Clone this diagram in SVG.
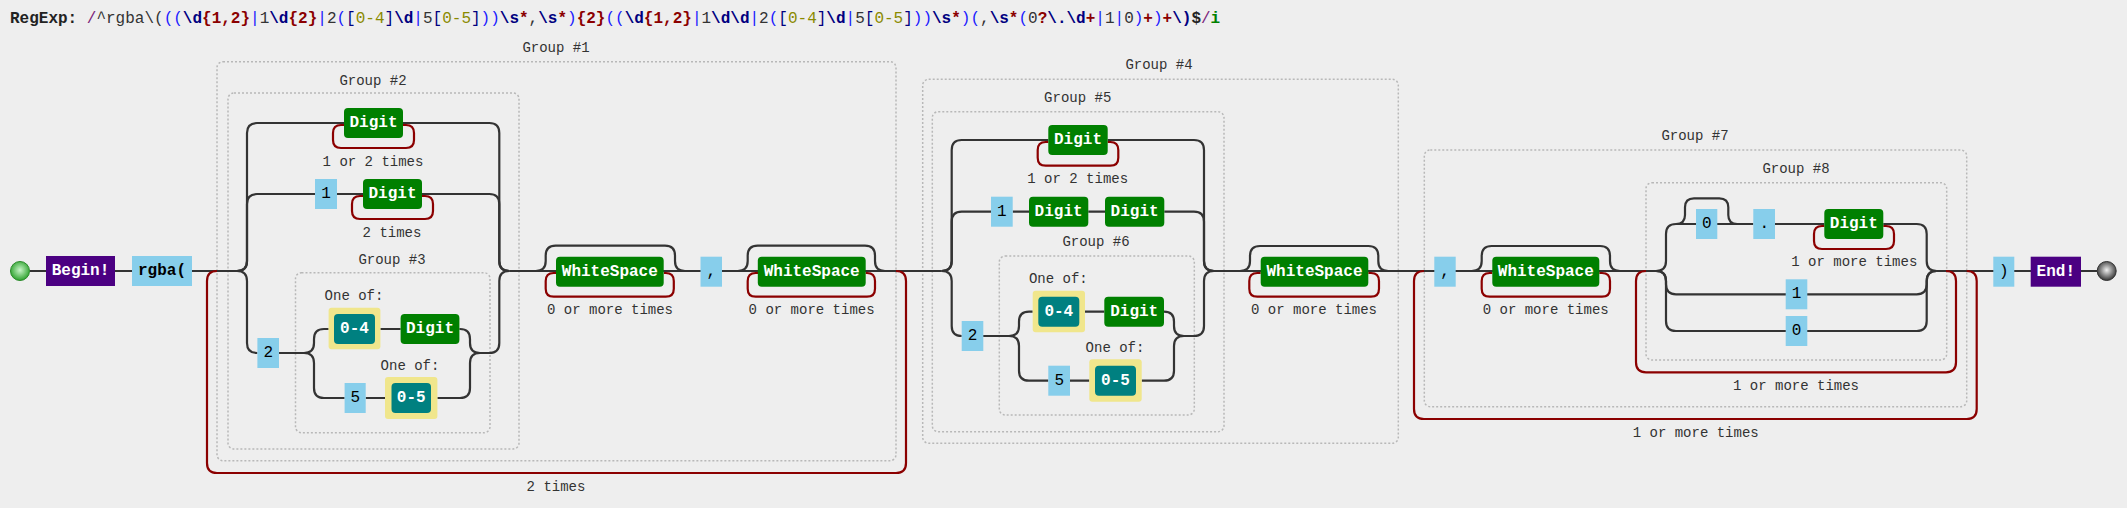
<svg xmlns="http://www.w3.org/2000/svg" width="2127" height="508" viewBox="0 0 2127 508">
<style>
.bg{fill:#eeeeee}
.grp{fill:none;stroke:#b8b8b8;stroke-width:1.5;stroke-dasharray:2 2}
.glabel{font-family:"Liberation Mono","Courier New",monospace;font-size:14px;fill:#333;text-anchor:middle}
.note{font-family:"Liberation Mono","Courier New",monospace;font-size:14px;fill:#333;text-anchor:middle}
.conn{fill:none;stroke:#333;stroke-width:2.2}
.loop{fill:none;stroke:#8b0000;stroke-width:2.2}
.green{fill:#008000}
.teal{fill:#008080}
.yel{fill:#f0e68c}
.lit{fill:#87ceeb}
.pur{fill:#4b0082}
.wt{font-family:"Liberation Mono","Courier New",monospace;font-size:16px;font-weight:bold;fill:#fff;text-anchor:middle;dominant-baseline:central}
.bt{font-family:"Liberation Mono","Courier New",monospace;font-size:16px;fill:#000;text-anchor:middle;dominant-baseline:central}
.rx{font-family:"Liberation Mono","Courier New",monospace;font-size:16px}
.k{font-weight:bold;fill:#222}
.d{fill:#7b1f7b}
.l{fill:#333}
.g{fill:#1a1aff}
.e{fill:#000080;font-weight:bold}
.q{fill:#8b0000;font-weight:bold}
.r{fill:#8a8a00}
.c{fill:#000080}
.f{fill:#008000;font-weight:bold}
</style>
<defs>
<radialGradient id="gBegin" cx="0.5" cy="0.45" r="0.6">
<stop offset="0" stop-color="#c8f5c8"/>
<stop offset="1" stop-color="#1f9a1f"/>
</radialGradient>
<radialGradient id="gEnd" cx="0.5" cy="0.45" r="0.6">
<stop offset="0" stop-color="#f0f0f0"/>
<stop offset="1" stop-color="#222"/>
</radialGradient>
</defs>
<rect class="bg" x="0" y="0" width="2127" height="508"/>

<text class="rx" x="10" y="23"><tspan class="k">RegExp:</tspan></text>
<text class="rx" x="86.8" y="23"><tspan class="d">/</tspan><tspan class="l">^rgba\(</tspan><tspan class="g">((</tspan><tspan class="e">\d</tspan><tspan class="q">{1,2}</tspan><tspan class="g">|</tspan><tspan class="l">1</tspan><tspan class="e">\d</tspan><tspan class="q">{2}</tspan><tspan class="g">|</tspan><tspan class="l">2</tspan><tspan class="g">(</tspan><tspan class="c">[</tspan><tspan class="r">0-4</tspan><tspan class="c">]</tspan><tspan class="e">\d</tspan><tspan class="g">|</tspan><tspan class="l">5</tspan><tspan class="c">[</tspan><tspan class="r">0-5</tspan><tspan class="c">]</tspan><tspan class="g">))</tspan><tspan class="e">\s</tspan><tspan class="q">*</tspan><tspan class="l">,</tspan><tspan class="e">\s</tspan><tspan class="q">*</tspan><tspan class="g">)</tspan><tspan class="q">{2}</tspan><tspan class="g">((</tspan><tspan class="e">\d</tspan><tspan class="q">{1,2}</tspan><tspan class="g">|</tspan><tspan class="l">1</tspan><tspan class="e">\d\d</tspan><tspan class="g">|</tspan><tspan class="l">2</tspan><tspan class="g">(</tspan><tspan class="c">[</tspan><tspan class="r">0-4</tspan><tspan class="c">]</tspan><tspan class="e">\d</tspan><tspan class="g">|</tspan><tspan class="l">5</tspan><tspan class="c">[</tspan><tspan class="r">0-5</tspan><tspan class="c">]</tspan><tspan class="g">))</tspan><tspan class="e">\s</tspan><tspan class="q">*</tspan><tspan class="g">)(</tspan><tspan class="l">,</tspan><tspan class="e">\s</tspan><tspan class="q">*</tspan><tspan class="g">(</tspan><tspan class="l">0</tspan><tspan class="q">?</tspan><tspan class="e">\.\d</tspan><tspan class="q">+</tspan><tspan class="g">|</tspan><tspan class="l">1</tspan><tspan class="g">|</tspan><tspan class="l">0</tspan><tspan class="g">)</tspan><tspan class="q">+</tspan><tspan class="g">)</tspan><tspan class="q">+</tspan><tspan class="e">\)</tspan><tspan class="k">$</tspan><tspan class="d">/</tspan><tspan class="f">i</tspan></text>

<!-- group boxes -->
<g id="group1"><rect class="grp" x="217" y="61.7" width="679" height="399" rx="6"/><text class="glabel" x="556" y="52">Group #1</text></g>
<g id="group2"><rect class="grp" x="228" y="93" width="291" height="356" rx="6"/><text class="glabel" x="373" y="85">Group #2</text></g>
<g id="group3"><rect class="grp" x="295.5" y="272.7" width="194.5" height="160" rx="6"/><text class="glabel" x="392" y="264">Group #3</text></g>
<g id="group4"><rect class="grp" x="922.7" y="79.3" width="475.6" height="364" rx="6"/><text class="glabel" x="1159" y="69">Group #4</text></g>
<g id="group5"><rect class="grp" x="932.3" y="111.7" width="291.7" height="320" rx="6"/><text class="glabel" x="1077.7" y="102">Group #5</text></g>
<g id="group6"><rect class="grp" x="999.3" y="256" width="195" height="159" rx="6"/><text class="glabel" x="1096" y="246">Group #6</text></g>
<g id="group7"><rect class="grp" x="1424.3" y="150" width="542.4" height="256.7" rx="6"/><text class="glabel" x="1695" y="140">Group #7</text></g>
<g id="group8"><rect class="grp" x="1646" y="182.7" width="300.7" height="177.3" rx="6"/><text class="glabel" x="1796" y="173">Group #8</text></g>

<!-- connectors -->
<g id="connectors">
<path class="conn" d="M30,271H46M115,271H132M192,271H237M509.3,271H941.7M1214,271H1656M1936.7,271H2097"/>
<path class="conn" d="M237,271q10,0 10,-10V133q0,-10 10,-10H344M403,123H489.3q10,0 10,10V261q0,10 10,10"/>
<path class="conn" d="M237,271q10,0 10,-10V204q0,-10 10,-10H315M337,194H363M422,194H489.3q10,0 10,10V261q0,10 10,10"/>
<path class="conn" d="M237,271q10,0 10,10V343q0,10 10,10H257.4M480,353H489.3q10,0 10,-10V281q0,-10 10,-10"/>
<path class="conn" d="M279,353H304q10,0 10,-10V339q0,-10 10,-10H328.6M380.4,329H400.6M459.4,329H460q10,0 10,10V343q0,10 10,10"/>
<path class="conn" d="M279,353H304q10,0 10,10V388q0,10 10,10H344.6M365.7,398H385M437.4,398H460q10,0 10,-10V363q0,-10 10,-10"/>
<path class="conn" d="M535.7,271q10,0 10,-10V255.7q0,-10 10,-10H665q10,0 10,10V261q0,10 10,10"/>
<path class="conn" d="M737.7,271q10,0 10,-10V255.7q0,-10 10,-10H865q10,0 10,10V261q0,10 10,10"/>
<path class="conn" d="M941.7,271q10,0 10,-10V150q0,-10 10,-10H1048.3M1107.7,140H1194q10,0 10,10V261q0,10 10,10"/>
<path class="conn" d="M941.7,271q10,0 10,-10V221.7q0,-10 10,-10H991M1012.7,211.7H1029M1088.3,211.7H1105M1164.3,211.7H1194q10,0 10,10V261q0,10 10,10"/>
<path class="conn" d="M941.7,271q10,0 10,10V326q0,10 10,10H961.7M1184,336H1194q10,0 10,-10V281q0,-10 10,-10"/>
<path class="conn" d="M983.3,336H1009q10,0 10,-10V321.7q0,-10 10,-10H1032.7M1085,311.7H1104.3M1164,311.7q10,0 10,10V326q0,10 10,10"/>
<path class="conn" d="M983.3,336H1009q10,0 10,10V370.7q0,10 10,10H1048.3M1070,380.7H1089.3M1141.7,380.7H1164q10,0 10,-10V346q0,-10 10,-10"/>
<path class="conn" d="M1240,271q10,0 10,-10V256q0,-10 10,-10H1368.3q10,0 10,10V261q0,10 10,10"/>
<path class="conn" d="M1471.7,271q10,0 10,-10V256q0,-10 10,-10H1600q10,0 10,10V261q0,10 10,10"/>
<path class="conn" d="M1656,271q10,0 10,-10V234q0,-10 10,-10H1753.3M1775,224H1824.3M1883.3,224H1916.7q10,0 10,10V261q0,10 10,10"/>
<path class="conn" d="M1676,224q9,0 9,-9V207.3q0,-9 9,-9H1719.3q9,0 9,9V215q0,9 9,9"/>
<path class="conn" d="M1656,271q10,0 10,10V284.3q0,10 10,10H1916.7q10,0 10,-10V281q0,-10 10,-10"/>
<path class="conn" d="M1656,271q10,0 10,10V321q0,10 10,10H1916.7q10,0 10,-10V281q0,-10 10,-10"/>
<!-- repeat loops -->
<path class="loop" d="M217,271q-10,0 -10,10V463q0,10 10,10H896q10,0 10,-10V281q0,-10 -10,-10"/>
<path class="loop" d="M344,125H341q-8,0 -8,8V140q0,8 8,8H406q8,0 8,-8V133q0,-8 -8,-8H403"/>
<path class="loop" d="M363,196H360q-8,0 -8,8V211q0,8 8,8H425q8,0 8,-8V204q0,-8 -8,-8H422"/>
<path class="loop" d="M556,273H553.7q-8,0 -8,8V288.7q0,8 8,8H665.8q8,0 8,-8V281q0,-8 -8,-8H664"/>
<path class="loop" d="M758,273H755.7q-8,0 -8,8V288.7q0,8 8,8H867q8,0 8,-8V281q0,-8 -8,-8H865.7"/>
<path class="loop" d="M1048.3,142H1045.7q-8,0 -8,8V157.7q0,8 8,8H1110.3q8,0 8,-8V150q0,-8 -8,-8H1107.7"/>
<path class="loop" d="M1260.7,273H1257.3q-8,0 -8,8V288.7q0,8 8,8H1371q8,0 8,-8V281q0,-8 -8,-8H1368.3"/>
<path class="loop" d="M1492.3,273H1489.7q-8,0 -8,8V288.7q0,8 8,8H1602q8,0 8,-8V281q0,-8 -8,-8H1599.3"/>
<path class="loop" d="M1824.3,226H1822q-8,0 -8,8V241q0,8 8,8H1886q8,0 8,-8V234q0,-8 -8,-8H1883.3"/>
<path class="loop" d="M1646,271q-10,0 -10,10V362.3q0,10 10,10H1946q10,0 10,-10V281q0,-10 -10,-10"/>
<path class="loop" d="M1424,271q-10,0 -10,10V409q0,10 10,10H1966.7q10,0 10,-10V281q0,-10 -10,-10"/>
</g>

<!-- repeat notes -->
<g id="notes">
<text class="note" x="556" y="491">2 times</text>
<text class="note" x="373" y="166">1 or 2 times</text>
<text class="note" x="392" y="237">2 times</text>
<text class="note" x="610" y="314">0 or more times</text>
<text class="note" x="811.6" y="314">0 or more times</text>
<text class="note" x="1077.7" y="183">1 or 2 times</text>
<text class="note" x="1314" y="314">0 or more times</text>
<text class="note" x="1545.7" y="314">0 or more times</text>
<text class="note" x="1854.3" y="266">1 or more times</text>
<text class="note" x="1796" y="390">1 or more times</text>
<text class="note" x="1695.7" y="437">1 or more times</text>
<text class="note" x="354" y="300">One of:</text>
<text class="note" x="410" y="370">One of:</text>
<text class="note" x="1058.3" y="283">One of:</text>
<text class="note" x="1115" y="352">One of:</text>
</g>

<!-- nodes -->
<g id="begin"><circle cx="20" cy="271" r="9.5" fill="url(#gBegin)" stroke="#2a8a2a" stroke-width="1"/></g>
<g id="beginLabel"><rect class="pur" x="46" y="256" width="69" height="30"/><text class="wt" x="80.5" y="271">Begin!</text></g>
<g id="rgba"><rect class="lit" x="132" y="256" width="60" height="30"/><text class="bt" x="162" y="271" font-weight="bold">rgba(</text></g>

<g id="g2digit1"><rect class="green" x="344" y="108" width="59" height="30" rx="4"/><text class="wt" x="373.5" y="123">Digit</text></g>
<g id="g2one"><rect class="lit" x="315" y="179" width="22" height="30"/><text class="bt" x="326" y="194">1</text></g>
<g id="g2digit2"><rect class="green" x="363" y="179" width="59" height="30" rx="4"/><text class="wt" x="392.5" y="194">Digit</text></g>
<g id="g2two"><rect class="lit" x="257.4" y="338" width="21.6" height="30"/><text class="bt" x="268.2" y="353">2</text></g>
<g id="g3range04"><rect class="yel" x="328.6" y="307.7" width="51.8" height="41.6" rx="3"/><rect class="teal" x="334" y="314" width="41" height="30" rx="4"/><text class="wt" x="354.5" y="329">0-4</text></g>
<g id="g3digit"><rect class="green" x="400.6" y="314" width="58.8" height="30" rx="4"/><text class="wt" x="430" y="329">Digit</text></g>
<g id="g3five"><rect class="lit" x="344.6" y="383" width="21.1" height="30"/><text class="bt" x="355.2" y="398">5</text></g>
<g id="g3range05"><rect class="yel" x="385" y="377" width="52.4" height="42" rx="3"/><rect class="teal" x="391.5" y="383" width="39.5" height="30" rx="4"/><text class="wt" x="411.2" y="398">0-5</text></g>
<g id="ws1"><rect class="green" x="556" y="256.7" width="107.7" height="30" rx="4"/><text class="wt" x="609.8" y="271.7">WhiteSpace</text></g>
<g id="comma1"><rect class="lit" x="700.5" y="256.7" width="21.5" height="30"/><text class="bt" x="711.2" y="271.7">,</text></g>
<g id="ws2"><rect class="green" x="757.8" y="256.7" width="107.9" height="30" rx="4"/><text class="wt" x="811.7" y="271.7">WhiteSpace</text></g>

<g id="g5digit1"><rect class="green" x="1048.3" y="125" width="59.4" height="30" rx="4"/><text class="wt" x="1078" y="140">Digit</text></g>
<g id="g5one"><rect class="lit" x="991" y="196.7" width="21.7" height="30"/><text class="bt" x="1001.8" y="211.7">1</text></g>
<g id="g5digit2"><rect class="green" x="1029" y="196.7" width="59.3" height="30" rx="4"/><text class="wt" x="1058.6" y="211.7">Digit</text></g>
<g id="g5digit3"><rect class="green" x="1105" y="196.7" width="59.3" height="30" rx="4"/><text class="wt" x="1134.6" y="211.7">Digit</text></g>
<g id="g5two"><rect class="lit" x="961.7" y="321" width="21.6" height="30"/><text class="bt" x="972.5" y="336">2</text></g>
<g id="g6range04"><rect class="yel" x="1032.7" y="290.7" width="52.3" height="41.6" rx="3"/><rect class="teal" x="1038.3" y="296.7" width="41" height="30" rx="4"/><text class="wt" x="1058.8" y="311.7">0-4</text></g>
<g id="g6digit"><rect class="green" x="1104.3" y="296.7" width="59.7" height="30" rx="4"/><text class="wt" x="1134.2" y="311.7">Digit</text></g>
<g id="g6five"><rect class="lit" x="1048.3" y="365.7" width="21.7" height="30"/><text class="bt" x="1059.2" y="380.7">5</text></g>
<g id="g6range05"><rect class="yel" x="1089.3" y="359.3" width="52.4" height="42.4" rx="3"/><rect class="teal" x="1095" y="365.7" width="41" height="30" rx="4"/><text class="wt" x="1115.5" y="380.7">0-5</text></g>
<g id="ws3"><rect class="green" x="1260.7" y="256.7" width="107.6" height="30" rx="4"/><text class="wt" x="1314.5" y="271.7">WhiteSpace</text></g>

<g id="comma2"><rect class="lit" x="1434.3" y="256.7" width="21.4" height="30"/><text class="bt" x="1445" y="271.7">,</text></g>
<g id="ws4"><rect class="green" x="1492.3" y="256.7" width="107" height="30" rx="4"/><text class="wt" x="1545.8" y="271.7">WhiteSpace</text></g>
<g id="g8zero1"><rect class="lit" x="1696" y="209" width="21.3" height="30"/><text class="bt" x="1706.7" y="224">0</text></g>
<g id="g8dot"><rect class="lit" x="1753.3" y="209" width="21.7" height="30"/><text class="bt" x="1764.2" y="224">.</text></g>
<g id="g8digit"><rect class="green" x="1824.3" y="209" width="59" height="30" rx="4"/><text class="wt" x="1853.8" y="224">Digit</text></g>
<g id="g8one"><rect class="lit" x="1785.7" y="279.3" width="21.6" height="30"/><text class="bt" x="1796.5" y="294.3">1</text></g>
<g id="g8zero2"><rect class="lit" x="1785.7" y="316" width="21.6" height="30"/><text class="bt" x="1796.5" y="331">0</text></g>

<g id="paren"><rect class="lit" x="1993.3" y="256.7" width="21" height="30"/><text class="bt" x="2003.8" y="271.7">)</text></g>
<g id="endLabel"><rect class="pur" x="2030.7" y="256.7" width="50.3" height="30"/><text class="wt" x="2055.8" y="271.7">End!</text></g>
<g id="end"><circle cx="2106.7" cy="271" r="9.5" fill="url(#gEnd)" stroke="#333" stroke-width="1"/></g>
</svg>
